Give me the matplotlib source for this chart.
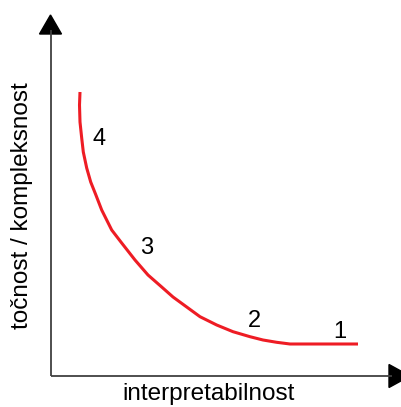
import numpy as np
from matplotlib import pyplot as plt
from matplotlib.patches import Polygon

# Curve (pixel coordinates, y grows downwards)
curve_x = [80, 79.5, 80, 81.7, 83.3, 86.7, 90.7, 95.5, 101.7, 111.7, 121.7, 135, 148,
           161.7, 173, 186.7, 200, 216.7, 233, 250, 263, 276.7, 290, 358]
curve_y = [92, 105, 122, 138, 152, 168, 182, 194, 210, 230, 243, 260, 275,
           287, 297, 307, 316.7, 325, 331.7, 336.7, 340, 342.3, 344, 344]

# Numbered labels along the curve
label_text = ['4', '3', '2', '1']
label_x = [99, 147, 254, 340]
label_y = [139, 248, 321, 332]

x_title = 'interpretabilnost'
y_title = 'točnost / kompleksnost'

plt.rcParams['font.family'] = ['Liberation Sans', 'DejaVu Sans']

fig = plt.figure(figsize=(4.01, 4.07), dpi=100)
ax = fig.add_axes([0, 0, 1, 1])
ax.set_xlim(0, 401)
ax.set_ylim(407, 0)
ax.axis('off')

# Axes with arrow heads
ax.plot([50.5, 50.5], [376, 30], color='#404040', linewidth=1.3, solid_capstyle='butt')
ax.plot([50.5, 392], [376, 376], color='#404040', linewidth=1.3, solid_capstyle='butt')
ax.add_patch(Polygon([[50.5, 15], [39.5, 34], [61.5, 34]], closed=True, color='black'))
ax.add_patch(Polygon([[389, 364.5], [389, 387.5], [410, 376]], closed=True, color='black'))

# The trade-off curve
ax.plot(curve_x, curve_y, color='#ee1c24', linewidth=2.2, solid_capstyle='butt',
        solid_joinstyle='round')

for t, x, y in zip(label_text, label_x, label_y):
    ax.text(x, y, t, fontsize=17, ha='center', va='center', color='black')

ax.text(209, 394, x_title, fontsize=17.5, ha='center', va='center', color='black')
ax.text(22, 206, y_title, fontsize=17.5, ha='center', va='center', rotation=90, color='black')

plt.savefig('out.png', dpi=100)
